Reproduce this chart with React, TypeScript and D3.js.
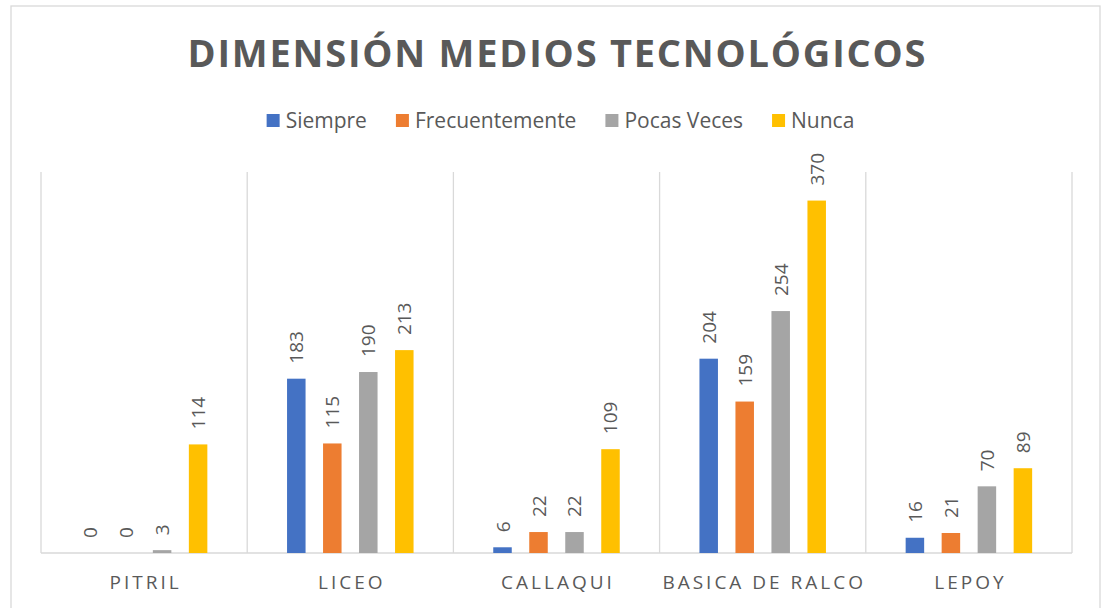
import React, { useEffect, useRef } from 'react';
import * as d3 from 'd3';

// values
const categories = ['PITRIL', 'LICEO', 'CALLAQUI', 'BASICA DE RALCO', 'LEPOY'];
const seriesNames = ['Siempre', 'Frecuentemente', 'Pocas Veces', 'Nunca'];
const siempre = [0, 183, 6, 204, 16];
const frecuentemente = [0, 115, 22, 159, 21];
const pocasVeces = [3, 190, 22, 254, 70];
const nunca = [114, 213, 109, 370, 89];
const seriesColors = ['#4472C4', '#ED7D31', '#A5A5A5', '#FFC000'];
const title = 'DIMENSIÓN MEDIOS TECNOLÓGICOS';

const W = 1102;
const H = 608;
const TEXT = '#595959';
const GRID = '#d9d9d9';
const FONT = '"Open Sans", sans-serif';

export default function App() {
  const ref = useRef<SVGSVGElement>(null);

  useEffect(() => {
    const svg = d3.select(ref.current);
    svg.selectAll('*').remove();

    const values = [siempre, frecuentemente, pocasVeces, nunca];
    const margin = { top: 172, left: 41, right: 1072, bottom: 553 };

    // chart frame
    svg.append('rect')
      .attr('x', 11).attr('y', 6)
      .attr('width', 1089).attr('height', 640)
      .attr('fill', '#fff')
      .attr('stroke', GRID).attr('stroke-width', 1.3);

    // title
    svg.append('text')
      .attr('x', 556.5).attr('y', 67)
      .attr('text-anchor', 'middle')
      .attr('font-family', FONT).attr('font-weight', 700)
      .attr('font-size', 38).attr('fill', TEXT)
      .attr('textLength', 738).attr('lengthAdjust', 'spacing')
      .text(title);

    const x0 = d3.scaleBand<string>()
      .domain(categories)
      .range([margin.left, margin.right])
      .padding(0);

    const x1 = d3.scaleBand<string>()
      .domain(seriesNames)
      .range([0, x0.bandwidth()])
      .paddingInner(0.486)
      .paddingOuter(1.107);

    const y = d3.scaleLinear()
      .domain([0, 400])
      .range([margin.bottom, margin.top]);

    // vertical separators between categories
    const edges = categories.map(c => x0(c) as number).concat([margin.right]);
    svg.append('g').selectAll('line')
      .data(edges)
      .enter().append('line')
      .attr('x1', d => d).attr('x2', d => d)
      .attr('y1', y(400)).attr('y2', y(0))
      .attr('stroke', GRID).attr('stroke-width', 1.3);

    // baseline
    svg.append('line')
      .attr('x1', margin.left).attr('x2', margin.right)
      .attr('y1', y(0)).attr('y2', y(0))
      .attr('stroke', GRID).attr('stroke-width', 1.3);

    // bars + labels
    seriesNames.forEach((s, si) => {
      const g = svg.append('g');
      const rows = categories.map((c, ci) => ({ c, v: values[si][ci] }));
      g.selectAll('rect')
        .data(rows)
        .enter().append('rect')
        .attr('x', d => (x0(d.c) as number) + (x1(s) as number))
        .attr('y', d => y(d.v))
        .attr('width', x1.bandwidth())
        .attr('height', d => y(0) - y(d.v))
        .attr('fill', seriesColors[si]);

      g.selectAll('text')
        .data(rows)
        .enter().append('text')
        .attr('transform', d => {
          const cx = (x0(d.c) as number) + (x1(s) as number) + x1.bandwidth() / 2 + 7;
          const cy = y(d.v) - 15;
          return `translate(${cx},${cy}) rotate(-90)`;
        })
        .attr('font-family', FONT).attr('font-size', 19)
        .attr('fill', TEXT)
        .text(d => d.v);
    });

    // category axis labels
    svg.append('g').selectAll('text')
      .data(categories)
      .enter().append('text')
      .attr('x', d => (x0(d) as number) + x0.bandwidth() / 2 + 1.5)
      .attr('y', 589)
      .attr('text-anchor', 'middle')
      .attr('font-family', FONT).attr('font-size', 19)
      .attr('letter-spacing', 3)
      .attr('fill', TEXT)
      .text(d => d);

    // legend
    const legend = svg.append('g');
    let cursor = 0;
    seriesNames.forEach((s, i) => {
      const item = legend.append('g').attr('transform', `translate(${cursor},0)`);
      item.append('rect')
        .attr('x', 0).attr('y', 114)
        .attr('width', 13).attr('height', 13)
        .attr('fill', seriesColors[i]);
      const t = item.append('text')
        .attr('x', 19).attr('y', 128)
        .attr('font-family', FONT).attr('font-size', 21)
        .attr('fill', TEXT)
        .text(s);
      const w = (t.node() as SVGTextElement).getComputedTextLength();
      cursor += 19 + w + 29;
    });
    const total = cursor - 29;
    legend.attr('transform', `translate(${560.5 - total / 2},0)`);
  }, []);

  return (
    <div style={{ position: 'fixed', left: 0, top: 0 }}>
      <svg ref={ref} width={W} height={H} style={{ display: 'block' }} />
    </div>
  );
}
